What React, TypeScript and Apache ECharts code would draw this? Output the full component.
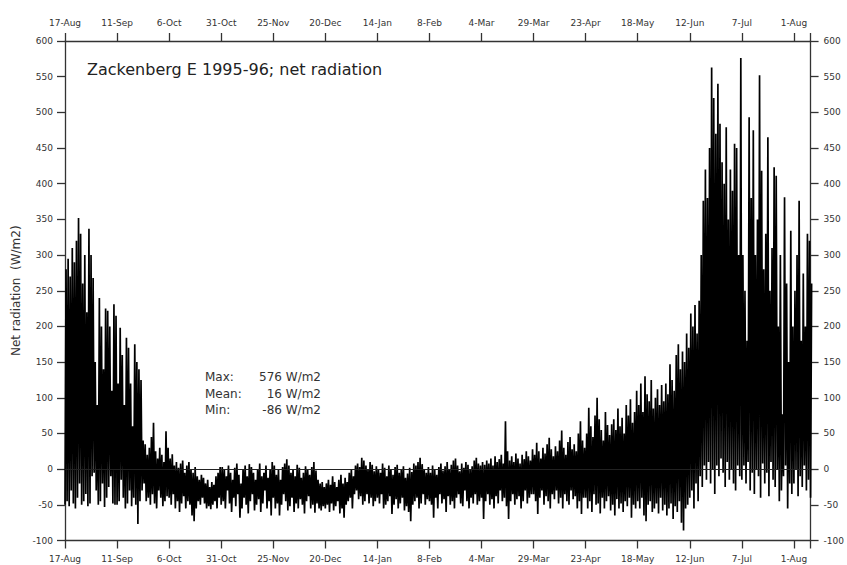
import React, { useEffect, useRef } from 'react';
import * as echarts from 'echarts';

// Tick labels every 25 days from 17-Aug-1995
const tickLabels = ['17-Aug', '11-Sep', '6-Oct', '31-Oct', '25-Nov', '20-Dec', '14-Jan', '8-Feb', '4-Mar', '29-Mar', '23-Apr', '18-May', '12-Jun', '7-Jul', '1-Aug'];

// Daily maximum net radiation (W/m2), day 0 = 17-Aug-1995
const dailyMax = [
  280, 295, 270, 310, 290, 320, 352, 330, 260, 300, 220, 337, 300, 268, 150, 90, 240, 200, 140, 225, 222, 200, 110, 231, 215,
  120, 198, 160, 90, 184, 170, 120, 60, 175, 150, 140, 125, 40, 35, 20, 30, 45, 65, 25, 15, 30, 20, 10, 53, 30,
  15, 21, 5, 10, 2, 8, 12, -5, 5, 10, 0, -5, 3, -10, -15, -8, -12, -20, -15, -25, -18, -22, -10, -5, 3,
  3, 0, -10, 5, -5, -15, 2, 8, -8, -20, 0, 5, -10, 7, 3, -5, -15, 0, 8, -10, -5, 5, -12, 0, 10,
  5, -8, 0, -15, 3, 8, 14, 5, -5, 0, -10, 6, 2, -12, -5, 4, 0, -8, 3, 10, -2, -15, -20, -18, -25,
  -20, -15, -22, -10, -18, -25, -15, -8, -20, -12, -18, -5, 0, -10, 5, 8, 3, 16, 12, 5, 0, 10, 6, -3, 4,
  0, -5, 8, 2, -10, 5, 0, -8, 3, 6, -5, 0, 4, -12, -6, 2, -4, 8, 5, 10, 16, 7, 0, -5, 3,
  -5, 5, 0, -8, 3, 8, -2, 4, 10, 0, 6, 12, 15, 5, -3, 8, 2, 10, 6, 0, 4, 12, 16, 8, 5,
  10, 6, 12, 8, 15, 5, 18, 10, 14, 20, 8, 67, 25, 12, 18, 10, 22, 15, 8, 20, 14, 25, 18, 12, 28,
  20, 37, 25, 15, 30, 22, 35, 44, 28, 18, 32, 25, 40, 54, 30, 20, 38, 45, 28, 35, 25, 50, 67, 40, 30,
  50, 86, 60, 45, 75, 100, 70, 55, 40, 80, 62, 48, 63, 70, 55, 85, 60, 72, 50, 90, 75, 98, 65, 80, 110,
  90, 120, 80, 130, 105, 95, 125, 85, 100, 112, 90, 118, 95, 120, 105, 147, 125, 110, 160, 175, 140, 165, 150, 190, 170,
  218, 200, 230, 190, 236, 300, 376, 420, 380, 450, 563, 520, 470, 540, 484, 430, 400, 479, 350, 420, 390, 456, 450, 300, 576,
  300, 250, 180, 493, 380, 475, 300, 350, 552, 418, 280, 330, 465, 250, 310, 423, 411, 200, 300, 77, 381, 260, 150, 334, 200,
  250, 300, 376, 180, 274, 200, 330, 320, 260,
];

// Daily minimum net radiation (W/m2)
const dailyMin = [
  -50, -45, -52, -30, -48, -55, -40, -20, -50, -45, -35, -52, -48, -10, -5, -30, -50, -45, -20, -53, -40, -25, -10, -48, -50,
  -50, -45, -15, -40, -55, -48, -30, -52, -40, -50, -77, -45, -30, -20, -45, -40, -50, -35, -48, -55, -30, -40, -52, -45, -38,
  -40, -50, -35, -55, -45, -60, -48, -38, -55, -45, -50, -65, -73, -55, -45, -50, -40, -48, -55, -52, -56, -50, -45, -55, -40,
  -50, -45, -55, -30, -48, -60, -40, -52, -35, -68, -55, -40, -50, -62, -45, -35, -58, -50, -42, -60, -48, -30, -55, -45, -65,
  -40, -55, -48, -65, -50, -35, -45, -58, -52, -40, -60, -48, -55, -42, -50, -62, -45, -38, -55, -50, -61, -48, -55, -58, -52,
  -55, -50, -60, -48, -58, -52, -45, -62, -55, -68, -50, -45, -40, -55, -35, -30, -42, -38, -50, -45, -35, -48, -40, -52, -45,
  -40, -48, -35, -55, -50, -45, -38, -63, -50, -42, -55, -48, -40, -58, -52, -60, -73, -50, -45, -40, -55, -48, -35, -50, -42,
  -45, -50, -68, -40, -55, -35, -48, -42, -60, -38, -50, -45, -55, -40, -35, -48, -52, -30, -45, -55, -40, -48, -35, -50, -45,
  -40, -70, -45, -35, -50, -42, -55, -38, -48, -30, -45, -40, -52, -70, -45, -35, -50, -42, -38, -55, -45, -30, -48, -40, -35,
  -35, -45, -63, -40, -30, -50, -38, -45, -55, -35, -42, -30, -48, -40, -55, -35, -45, -50, -30, -42, -38, -55, -45, -63, -40,
  -40, -55, -45, -60, -35, -50, -48, -62, -40, -55, -45, -38, -58, -50, -65, -42, -55, -48, -60, -45, -52, -40, -68, -50, -55,
  -45, -55, -40, -65, -73, -50, -45, -60, -55, -48, -62, -40, -58, -50, -65, -55, -48, -70, -52, -60, -45, -75, -86, -55, -50,
  -40, -30, -55, -20, -45, -10, -25, 5, -15, 10, -20, 0, -35, 5, -10, 15, -5, -25, 10, -15, 0, -20, -30, 5, -10,
  -15, 5, -20, 10, -30, -5, -35, 0, -10, -40, 8, -20, -5, -38, 10, -15, -25, 0, -45, -30, -10, 5, -55, -20, -35,
  -20, 0, -38, -10, -25, 5, -30, -15, -40,
];

const titleText = 'Zackenberg E 1995-96; net radiation';
const yAxisName = 'Net radiation  (W/m2)';
const statLabels = ['Max:', 'Mean:', 'Min:'];
const statValues = ['576 W/m2', '16 W/m2', '-86 W/m2'];

const FONT = 'DejaVu Sans';

export default function App() {
  const ref = useRef<HTMLDivElement>(null);

  useEffect(() => {
    if (!ref.current) return;
    const chart = echarts.init(ref.current, undefined, { renderer: 'svg' });

    const data: [number, number][] = [];
    dailyMax.forEach((mx, i) => {
      data.push([i, dailyMin[i]]);
      data.push([i + 0.5, mx]);
    });

    const axisLineStyle = { color: '#333', width: 1.3 };
    const xLabelFmt = (v: number) => {
      const k = v / 25;
      return Number.isInteger(k) && tickLabels[k] ? tickLabels[k] : '';
    };
    const xCommon = {
      type: 'value' as const,
      min: 0,
      max: 358,
      interval: 25,
      axisLine: { show: true, onZero: false, lineStyle: axisLineStyle },
      axisTick: { show: true, length: 8, lineStyle: axisLineStyle },
      splitLine: { show: false },
    };
    const yCommon = {
      type: 'value' as const,
      min: -100,
      max: 600,
      interval: 50,
      axisLine: { show: true, onZero: false, lineStyle: axisLineStyle },
      axisTick: { show: true, length: 8, lineStyle: axisLineStyle },
      splitLine: { show: false },
    };

    const statGraphics: any[] = [];
    statLabels.forEach((lab, i) => {
      const y = 377 + i * 16.6;
      statGraphics.push({
        type: 'text',
        style: { x: 205, y, text: lab, fontSize: 12, fontFamily: FONT, fill: '#333', align: 'left', verticalAlign: 'middle' },
      });
      statGraphics.push({
        type: 'text',
        style: { x: 321, y, text: statValues[i], fontSize: 12, fontFamily: FONT, fill: '#333', align: 'right', verticalAlign: 'middle' },
      });
    });

    chart.setOption({
      animation: false,
      backgroundColor: '#fff',
      textStyle: { fontFamily: FONT },
      grid: { left: 65, right: 32, top: 41, bottom: 24.5, containLabel: false },
      xAxis: [
        {
          ...xCommon,
          position: 'bottom',
          axisLabel: { fontSize: 9, color: '#333', margin: 14, fontFamily: FONT, formatter: xLabelFmt },
        },
        {
          ...xCommon,
          position: 'top',
          axisLabel: { fontSize: 9, color: '#333', margin: 14, fontFamily: FONT, formatter: xLabelFmt },
        },
      ],
      yAxis: [
        {
          ...yCommon,
          position: 'left',
          name: yAxisName,
          nameLocation: 'middle',
          nameGap: 40,
          nameTextStyle: { fontSize: 12, color: '#333', fontFamily: FONT },
          axisLabel: { fontSize: 9, color: '#333', margin: 12, fontFamily: FONT },
        },
        {
          ...yCommon,
          position: 'right',
          axisLabel: { fontSize: 9, color: '#333', margin: 13, fontFamily: FONT },
        },
      ],
      series: [
        {
          type: 'line',
          xAxisIndex: 0,
          yAxisIndex: 0,
          data,
          showSymbol: false,
          symbol: 'none',
          lineStyle: { color: '#000', width: 1.7 },
          silent: true,
          markLine: {
            silent: true,
            symbol: 'none',
            label: { show: false },
            lineStyle: { color: '#222', width: 1, type: 'solid' },
            data: [{ yAxis: 0 }],
          },
        },
      ],
      graphic: [
        {
          type: 'text',
          style: { x: 87, y: 69.5, text: titleText, fontSize: 16, fontFamily: FONT, fill: '#222', align: 'left', verticalAlign: 'middle' },
        },
        ...statGraphics,
      ],
    });

    return () => chart.dispose();
  }, []);

  return <div ref={ref} style={{ position: 'fixed', left: 0, top: 0, width: 847, height: 565 }} />;
}
